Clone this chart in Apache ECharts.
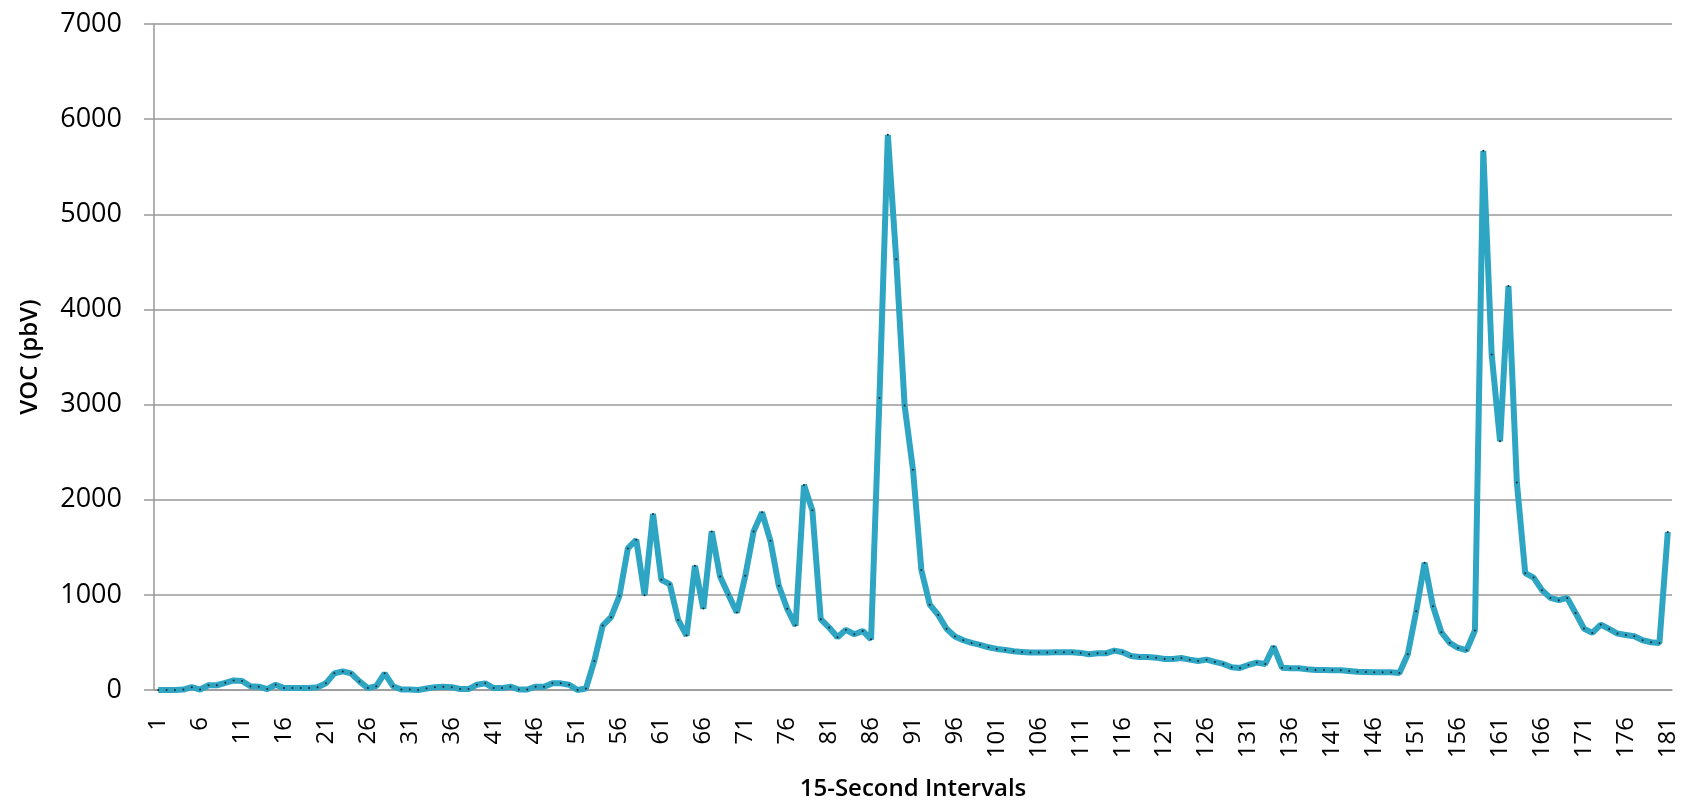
<!DOCTYPE html>
<html>
<head>
<meta charset="utf-8">
<title>VOC</title>
<script src="https://cdn.jsdelivr.net/npm/echarts@6/dist/echarts.min.js"></script>
<style>
  html, body { margin: 0; padding: 0; background: #fff; }
  #chart { width: 1688px; height: 803px; }
</style>
</head>
<body>
<div id="chart"></div>
<script>
// 15-second interval numbers (1..181)
var intervals = [];
for (var n = 1; n <= 181; n++) intervals.push(String(n));

// VOC readings, pbV
var voc = [
  0, 0, 0, 5, 30, 5, 50, 50, 75, 100,
  95, 40, 35, 10, 55, 20, 20, 20, 20, 30,
  70, 175, 195, 175, 90, 20, 40, 175, 40, 5,
  5, 0, 15, 30, 35, 30, 10, 10, 55, 70,
  20, 20, 35, 5, 5, 35, 35, 70, 70, 55,
  0, 15, 305, 677, 765, 990, 1488, 1579, 997, 1850,
  1158, 1112, 737, 572, 1305, 856, 1667, 1193, 1000, 814,
  1200, 1667, 1867, 1568, 1095, 853, 677, 2154, 1888, 744,
  656, 554, 632, 586, 621, 533, 3070, 5835, 4527, 2990,
  2314, 1260, 897, 789, 644, 563, 523, 495, 475, 449,
  432, 421, 407, 400, 393, 393, 393, 397, 397, 397,
  390, 376, 386, 386, 414, 397, 358, 347, 347, 340,
  326, 326, 337, 319, 305, 319, 295, 274, 239, 232,
  263, 288, 274, 456, 235, 228, 228, 218, 211, 211,
  207, 207, 200, 193, 190, 186, 186, 186, 179, 376,
  828, 1337, 880, 607, 495, 442, 418, 625, 5667, 3526,
  2614, 4246, 2182, 1228, 1182, 1049, 968, 944, 968, 810,
  646, 600, 688, 642, 593, 579, 565, 523, 502, 495,
  1661
];

var yTicks = { min: 0, max: 7000, step: 1000 };

var chart = echarts.init(document.getElementById('chart'));
var option = {
  animation: false,
  textStyle: { fontFamily: 'Open Sans' },
  grid: { left: 154, right: 16, top: 24, bottom: 113, outerBoundsMode: 'none' },
  xAxis: {
    type: 'category',
    data: intervals,
    boundaryGap: true,
    name: '15-Second Intervals',
    nameLocation: 'middle',
    nameGap: 87,
    nameTextStyle: { fontSize: 24, fontWeight: 600, color: '#000' },
    axisLine: { lineStyle: { color: '#999', width: 1.5 } },
    axisTick: { show: false },
    axisLabel: {
      interval: 4,
      rotate: 90,
      margin: 27,
      fontSize: 24,
      color: '#000'
    },
    splitLine: { show: false }
  },
  yAxis: {
    type: 'value',
    min: yTicks.min,
    max: yTicks.max,
    interval: yTicks.step,
    name: 'VOC (pbV)',
    nameLocation: 'middle',
    nameGap: 112,
    nameTextStyle: { fontSize: 24, fontWeight: 600, color: '#000' },
    axisLine: { show: true, lineStyle: { color: '#999', width: 1.5 } },
    axisTick: { show: true, inside: false, length: 10, lineStyle: { color: '#999', width: 1.5 } },
    axisLabel: {
      fontSize: 27,
      color: '#000',
      margin: 32,
      formatter: function (v) { return String(v); }
    },
    splitLine: { lineStyle: { color: '#999', width: 1.5 } }
  },
  series: [{
    name: 'VOC',
    type: 'line',
    data: voc,
    showSymbol: true,
    showAllSymbol: true,
    symbol: 'circle',
    symbolSize: 2,
    itemStyle: { color: '#1b2a30', borderWidth: 0 },
    lineStyle: { color: '#2ea5c3', width: 6 },
    emphasis: { disabled: true }
  }]
};
chart.setOption(option);
window.addEventListener('resize', function () { chart.resize(); });
</script>
</body>
</html>
